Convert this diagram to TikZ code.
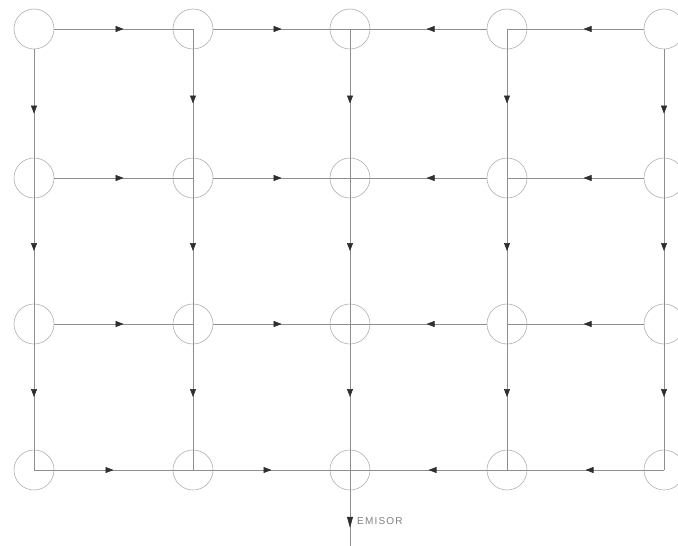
\documentclass[tikz,border=0pt]{standalone}
\usepackage{fontspec}
\usepackage{tikz}
\usetikzlibrary{arrows.meta, decorations.markings}
\usepackage{xcolor}
\definecolor{pipegray}{HTML}{8E8E8E}
\definecolor{wellgray}{HTML}{B0B0B0}
\definecolor{tipdark}{HTML}{2E2E2E}
\newfontfamily\tagfont[LetterSpace=12]{Liberation Sans}

\begin{document}
\begin{tikzpicture}[
  x=1pt, y=-1pt,
  pozo/.style={circle, draw=wellgray, line width=0.6pt, minimum size=40pt, inner sep=0pt},
  tubo/.style={draw=pipegray, line width=0.6pt, postaction={decorate},
               decoration={markings, mark=at position #1 with
                 {\arrow{Triangle[length=8pt, width=6pt, color=tipdark]}}}},
  tubo/.default=0.5,
  salida/.style={draw=pipegray, line width=0.6pt, postaction={decorate},
               decoration={markings, mark=at position 0.76 with
                 {\arrow{Triangle[length=11pt, width=6pt, color=tipdark]}}}},
]
  \clip (0,0) rectangle (678,546);
  % pozos
  \foreach \c/\x in {1/34, 2/193, 3/350, 4/507, 5/664}
    \foreach \r/\y in {1/29, 2/178, 3/324, 4/470}
      \node[pozo] (p\r\c) at (\x,\y) {};
  \coordinate (desc) at (350,546);

  % ramales horizontales, filas 1-3
  \foreach \r in {1,2,3} {
    \draw[tubo] (p\r1) -- (p\r2.center);
    \draw[tubo] (p\r2) -- (p\r3.center);
    \draw[tubo=0.44] (p\r4) -- (p\r3.center);
    \draw[tubo=0.44] (p\r5) -- (p\r4.center);
  }
  % colector inferior
  \draw[tubo] (p41.center) -- (p42.center);
  \draw[tubo] (p42.center) -- (p43.center);
  \draw[tubo] (p44.center) -- (p43.center);
  \draw[tubo] (p45.center) -- (p44.center);

  % ramales verticales
  \draw[tubo] (p11) -- (p21.center);
  \draw[tubo] (p15) -- (p25.center);
  \foreach \c in {2,3,4}
    \draw[tubo] (p1\c.center) -- (p2\c.center);
  \foreach \c in {1,...,5} {
    \draw[tubo] (p2\c.center) -- (p3\c.center);
    \draw[tubo] (p3\c.center) -- (p4\c.center);
  }

  % salida
  \draw[salida] (p43.center) -- (desc);
  \node[anchor=west, inner sep=0pt, font=\tagfont\fontsize{10}{10}\selectfont,
        text=black!50] (emisor) at (357,521) {EMISOR};
\end{tikzpicture}
\end{document}
